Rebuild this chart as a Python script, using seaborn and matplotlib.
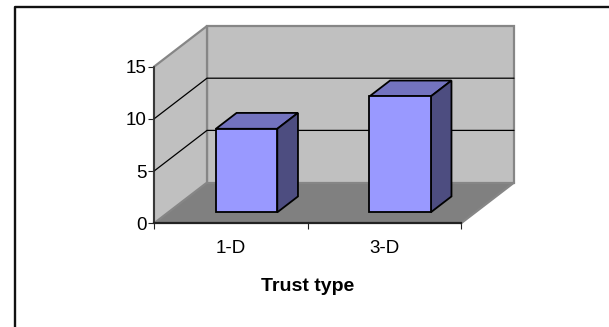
import matplotlib
matplotlib.use("Agg")
import matplotlib.pyplot as plt
from matplotlib.patches import Polygon, Rectangle
from matplotlib.lines import Line2D
import pandas as pd
import seaborn as sns

trust_types = ["1-D", "3-D"]
trust_values = [8.0, 11.1]
y_ticks = [0, 5, 10, 15]

W, H = 609, 327
FRONT_L, FRONT_R, FRONT_B, FRONT_T = 154, 461, 223.3, 66.7

sns.set_theme(style="white", rc={"font.family": "Liberation Sans"})
fig = plt.figure(figsize=(W / 100, H / 100), dpi=100, facecolor="white")
ax = fig.add_axes([FRONT_L / W, 1 - FRONT_B / H,
                   (FRONT_R - FRONT_L) / W, (FRONT_B - FRONT_T) / H])
ax.patch.set_visible(False)

# outline of the chart area: top and left edges only
fig.add_artist(Line2D([15 / W, 15 / W, 1], [0, 1 - 7 / H, 1 - 7 / H],
                      transform=fig.transFigure, color="#111111", linewidth=1.7))

df = pd.DataFrame({"type": trust_types, "value": trust_values})
sns.barplot(data=df, x="type", y="value", ax=ax, width=0.4, color="#9999FF",
            saturation=1, edgecolor="black", linewidth=1.3, zorder=5)

ax.set_xlim(-0.5, 1.5)
ax.set_ylim(0, 15)

# Oblique projection: depth 1 is the back wall of the chart box.
DX = 53 / ((FRONT_R - FRONT_L) / 2)
DY = 40.7 / ((FRONT_B - FRONT_T) / 15)


def proj(x, y, d):
    return (x + d * DX, y + d * DY)


def poly(points, **kw):
    ax.add_patch(Polygon(points, closed=True, clip_on=False, **kw))


x0, x1 = -0.5, 1.5
wall = "#C0C0C0"
edge = "#868686"
# floor and the two walls
poly([proj(x0, 0, 0), proj(x1, 0, 0), proj(x1, 0, 1), proj(x0, 0, 1)],
     facecolor="#808080", edgecolor="none", zorder=1)
poly([proj(x0, 0, 1), proj(x1, 0, 1), proj(x1, 15, 1), proj(x0, 15, 1)],
     facecolor=wall, edgecolor=edge, linewidth=1.6, zorder=1)
poly([proj(x0, 0, 0), proj(x0, 0, 1), proj(x0, 15, 1), proj(x0, 15, 0)],
     facecolor=wall, edgecolor=edge, linewidth=1.6, zorder=1)
ax.plot(*zip(proj(x1, 0, 0), proj(x1, 0, 1)), color=edge, lw=1.6, clip_on=False, zorder=2)

# gridlines run along the side wall, then across the back wall
for tick in y_ticks[1:-1]:
    ax.plot(*zip(proj(x0, tick, 0), proj(x0, tick, 1), proj(x1, tick, 1)),
            color="black", lw=0.9, clip_on=False, zorder=3)

# slide each front face into the box and add its top and side faces
BAR_D0, BAR_D1 = 0.27, 0.66
BAR_SHIFT = 0.01
for bar in [p for p in ax.patches if isinstance(p, Rectangle)]:
    left = bar.get_x() + BAR_SHIFT
    right = left + bar.get_width()
    value = bar.get_height()
    bar.set_x(left + BAR_D0 * DX)
    bar.set_y(BAR_D0 * DY)
    bar.set_clip_on(False)
    poly([proj(left, value, BAR_D0), proj(right, value, BAR_D0),
          proj(right, value, BAR_D1), proj(left, value, BAR_D1)],
         facecolor="#7373BF", edgecolor="black", linewidth=1.3, zorder=4)
    poly([proj(right, 0, BAR_D0), proj(right, 0, BAR_D1),
          proj(right, value, BAR_D1), proj(right, value, BAR_D0)],
         facecolor="#4D4D80", edgecolor="black", linewidth=1.3, zorder=4)

sns.despine(ax=ax)
for side in ("left", "bottom"):
    ax.spines[side].set_color("#222222")
    ax.spines[side].set_zorder(6)
ax.spines["left"].set_linewidth(1.1)
ax.spines["bottom"].set_linewidth(1.6)

ax.set_yticks(y_ticks)
ax.set_xticks([-0.5, 0.5, 1.5], minor=False)
ax.set_xticklabels([])
ax.tick_params(axis="both", which="major", length=4, width=0.8, color="#222222",
               bottom=True, left=True)
ax.tick_params(axis="y", labelsize=13.5, pad=1.5, labelcolor="black")
ax.set_ylabel("")
ax.set_xlabel("Trust type", fontsize=14, fontweight="bold", color="black", labelpad=32)

for pos, name in zip(range(len(trust_types)), trust_types):
    ax.annotate(name, xy=(pos, 0), xycoords=("data", "axes fraction"),
                xytext=(0, -12), textcoords="offset points",
                ha="center", va="top", fontsize=13.5, color="black")

fig.savefig("out.png", dpi=100)
